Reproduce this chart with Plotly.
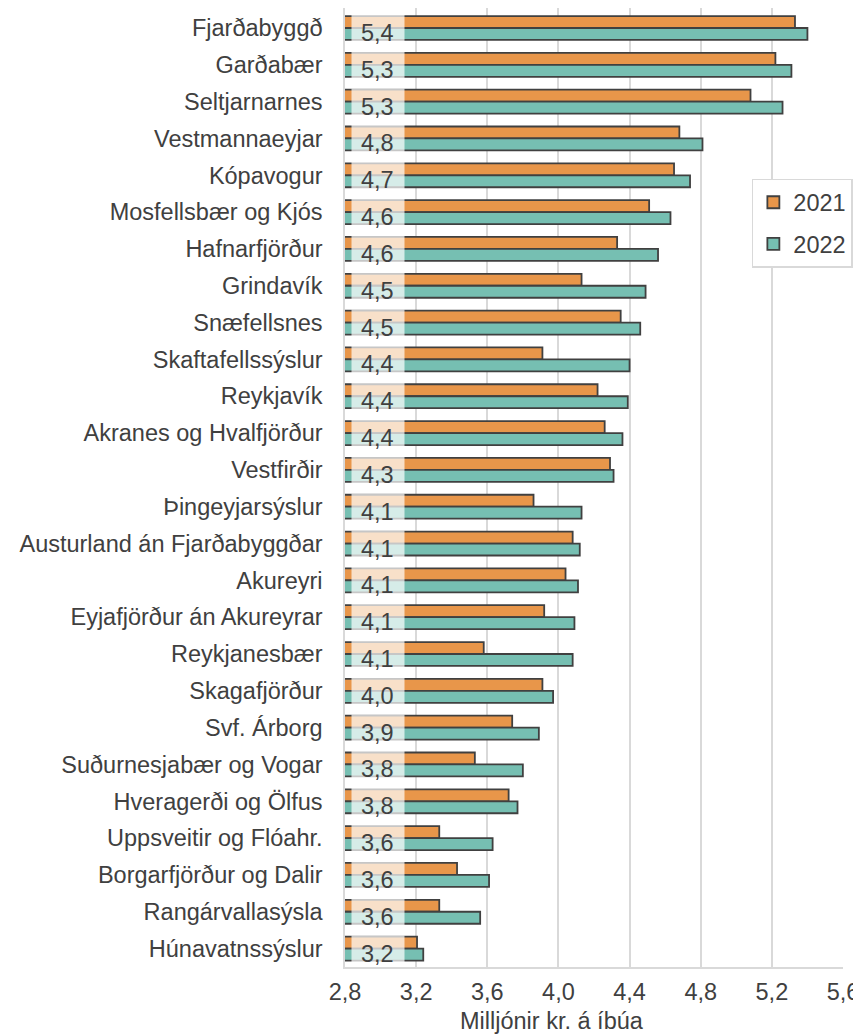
"""Grouped horizontal bar chart of income per inhabitant by region, 2021 vs 2022."""

import plotly.graph_objects as go


def region_bar_chart(
        categories,
        values_2021,
        values_2022,
        figsize=(853, 1027),
        font_size=23.5,
        color_2021="#E8964A",
        color_2022="#76BFB2",
        line_color="#404040",
        font_color="#404040",
        grid_color="#D9D9D9"):
    """Plots the two years as grouped horizontal bars.

    Args:
        categories (list): Region names, top to bottom.
        values_2021 (list): Values for 2021.
        values_2022 (list): Values for 2022.
        figsize (tuple): Output figure size (wxh) in pixels.
        font_size (float): Font size of the labels.
        color_2021 (str): Bar color for 2021.
        color_2022 (str): Bar color for 2022.
        line_color (str): Bar outline color.
        font_color (str): Text color.
        grid_color (str): Grid and axis line color.

    Returns:
        go.Figure: The figure.
    """
    font = dict(family="Liberation Sans, Arial", size=font_size, color=font_color)

    fig = go.Figure()

    # Add the bars, one trace per year
    for name, vals, color in [("2021", values_2021, color_2021),
                              ("2022", values_2022, color_2022)]:
        fig.add_trace(
            go.Bar(y=categories, x=vals,
                   orientation="h",
                   name=name,
                   legendgroup=name,
                   hoverinfo="x+y",
                   marker=dict(color=color,
                               line=dict(width=1.8, color=line_color))))

    # Value labels for 2022: a pale box near the axis, the number a bit below centre
    for cat, val in zip(categories, values_2022):
        fig.add_annotation(x=2.985, y=cat, xref="x", yref="y",
                           text=" ",
                           showarrow=False,
                           width=50, height=26,
                           yshift=-1,
                           bgcolor="rgba(255,255,255,0.7)",
                           font=font)
        fig.add_annotation(x=2.985, y=cat, xref="x", yref="y",
                           text="{:.1f}".format(val).replace(".", ","),
                           showarrow=False,
                           yshift=-5,
                           font=font)

    # Axis title, placed a little left of centre as in the source
    fig.add_annotation(x=0.415, y=-0.056, xref="paper", yref="paper",
                       text="Milljónir kr. á íbúa",
                       showarrow=False, yanchor="middle",
                       font=font)

    fig.update_xaxes(range=[2.8, 5.6], dtick=0.4, tick0=2.8,
                     tickformat=".1f",
                     showgrid=True, gridcolor=grid_color, gridwidth=1.5,
                     showline=True, linecolor=grid_color, linewidth=1.5,
                     ticks="outside", ticklen=3, tickcolor="rgba(0,0,0,0)",
                     tickfont=font,
                     zeroline=False, fixedrange=True)
    fig.update_yaxes(autorange="reversed",
                     showline=True, linecolor=grid_color, linewidth=1.5,
                     ticks="outside", ticklen=16, tickcolor="rgba(0,0,0,0)",
                     tickfont=font, fixedrange=True)

    fig.update_layout(barmode="group", bargap=0.35, bargroupgap=0,
                      separators=",.",
                      plot_bgcolor="white",
                      paper_bgcolor="white",
                      width=figsize[0], height=figsize[1],
                      font=font,
                      legend=dict(x=0.817, y=0.8217, xanchor="left", yanchor="top",
                                  bgcolor="white",
                                  bordercolor=grid_color, borderwidth=1.5,
                                  tracegroupgap=8, itemwidth=30,
                                  font=font),
                      margin=dict(t=0, l=337, r=18, b=68, autoexpand=False))
    return fig


regions = ["Fjarðabyggð", "Garðabær", "Seltjarnarnes", "Vestmannaeyjar", "Kópavogur",
           "Mosfellsbær og Kjós", "Hafnarfjörður", "Grindavík", "Snæfellsnes",
           "Skaftafellssýslur", "Reykjavík", "Akranes og Hvalfjörður", "Vestfirðir",
           "Þingeyjarsýslur", "Austurland án Fjarðabyggðar", "Akureyri",
           "Eyjafjörður án Akureyrar", "Reykjanesbær", "Skagafjörður", "Svf. Árborg",
           "Suðurnesjabær og Vogar", "Hveragerði og Ölfus", "Uppsveitir og Flóahr.",
           "Borgarfjörður og Dalir", "Rangárvallasýsla", "Húnavatnssýslur"]
y2021 = [5.33, 5.22, 5.08, 4.68, 4.65, 4.51, 4.33, 4.13, 4.35, 3.91, 4.22, 4.26, 4.29,
         3.86, 4.08, 4.04, 3.92, 3.58, 3.91, 3.74, 3.53, 3.72, 3.33, 3.43, 3.33, 3.205]
y2022 = [5.40, 5.31, 5.26, 4.81, 4.74, 4.63, 4.56, 4.49, 4.46, 4.40, 4.39, 4.36, 4.31,
         4.13, 4.12, 4.11, 4.09, 4.08, 3.97, 3.89, 3.80, 3.77, 3.63, 3.61, 3.56, 3.24]

fig = region_bar_chart(regions, y2021, y2022)
fig.write_html("out.html")
